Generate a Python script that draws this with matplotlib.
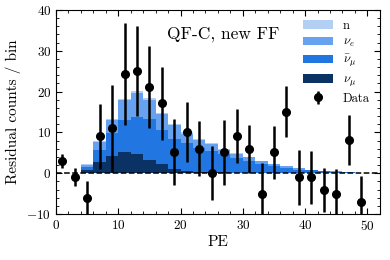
import numpy as np
import matplotlib
matplotlib.use('Agg')
import matplotlib.pyplot as plt
from matplotlib.ticker import MultipleLocator

plt.rcParams['font.family'] = 'serif'
plt.rcParams['font.serif'] = ['cmr10']
plt.rcParams['mathtext.fontset'] = 'cm'
plt.rcParams['axes.formatter.use_mathtext'] = True

# bin edges and per-bin stacked components (counts / bin)
edges = np.arange(0, 52, 2)
numu = [0, 0, 0.8, 2.7, 4.2, 5.2, 4.7, 3.3, 2.2, 1.0, 0.6, 0.4, 0.3,
        0.2, 0.1, 0.1, 0.05, 0, 0, 0, 0, 0, 0, 0, 0]
numubar = [0, 0, 0.7, 3.0, 5.6, 7.8, 9.1, 10.0, 8.3, 7.5, 6.7, 5.8, 5.2,
           4.4, 3.7, 2.9, 2.25, 1.8, 1.3, 0.9, 0.7, 0.45, 0.35, 0.22, 0.1]
nue = [0, 0, 0.6, 2.0, 3.2, 4.9, 5.9, 4.7, 3.9, 3.2, 2.4, 2.0, 1.6,
       1.2, 1.0, 0.9, 0.6, 0.45, 0.35, 0.27, 0.17, 0.13, 0.08, 0.06, 0.04]
n_bkg = [0, 0, 0.2, 0.3, 0.3, 0.4, 0.5, 0.4, 0.3, 0.3, 0.3, 0.3, 0.2,
         0.2, 0.2, 0.1, 0.1, 0.05, 0.05, 0.03, 0.03, 0.02, 0.02, 0.02, 0.01]

# data points
pe = np.arange(1, 50, 2)
resid = [3.0, -1.0, -6.1, 9.0, 11.0, 24.2, 25.1, 21.1, 17.1, 5.1, 10.1, 6.0, 0.0,
         5.1, 9.1, 6.0, -5.1, 5.1, 15.1, -1.0, -1.0, -4.1, -5.1, 8.1, -7.0]
err = [1.7, 2.2, 4.1, 8.0, 10.7, 12.5, 11.1, 10.0, 9.0, 8.1, 7.3, 6.8, 6.6,
       7.9, 6.6, 5.9, 7.5, 6.5, 6.3, 6.7, 6.5, 5.4, 6.1, 6.1, 6.4]

colors = ['#0b3265', '#2176e1', '#66a2ef', '#b4cff4']
labels = [r'$\nu_\mu$', r'$\bar{\nu}_\mu$', r'$\nu_e$', 'n']

fig = plt.figure(figsize=(3.9, 2.6), dpi=100)
ax = fig.add_axes([0.1436, 0.177, 0.8304, 0.7845])

centers = 0.5 * (edges[:-1] + edges[1:])
ax.hist([centers] * 4, bins=edges, weights=[numu, numubar, nue, n_bkg],
        stacked=True, histtype='stepfilled', color=colors, label=labels, zorder=1)

ax.axhline(0, color='black', linestyle='--', linewidth=1.1, zorder=2)
ax.errorbar(pe, resid, yerr=err, fmt='o', color='black', markersize=5.5,
            elinewidth=1.8, capsize=0, label='Data', zorder=3)

ax.set_xlim(0, 52)
ax.set_ylim(-10, 40)
ax.set_xlabel('PE', fontsize=11, labelpad=2)
ax.set_ylabel('Residual counts / bin', fontsize=11, labelpad=4)
ax.xaxis.set_major_locator(MultipleLocator(10))
ax.xaxis.set_minor_locator(MultipleLocator(2))
ax.yaxis.set_major_locator(MultipleLocator(10))
ax.yaxis.set_minor_locator(MultipleLocator(2))
ax.tick_params(which='both', direction='in', top=True, right=True, labelsize=9.5)
ax.tick_params(which='major', length=4)
ax.tick_params(which='minor', length=2)

ax.text(0.515, 0.88, 'QF-C, new FF', transform=ax.transAxes, fontsize=12.5,
        ha='center', va='center')

h, l = ax.get_legend_handles_labels()
want = ['n', r'$\nu_e$', r'$\bar{\nu}_\mu$', r'$\nu_\mu$', 'Data']
hs = [h[l.index(w)] for w in want]
ax.legend(hs, want, loc='upper right', frameon=False, fontsize=9,
          handlelength=2.4, labelspacing=0.32, borderaxespad=0.4)

fig.savefig('out.png', dpi=100)
